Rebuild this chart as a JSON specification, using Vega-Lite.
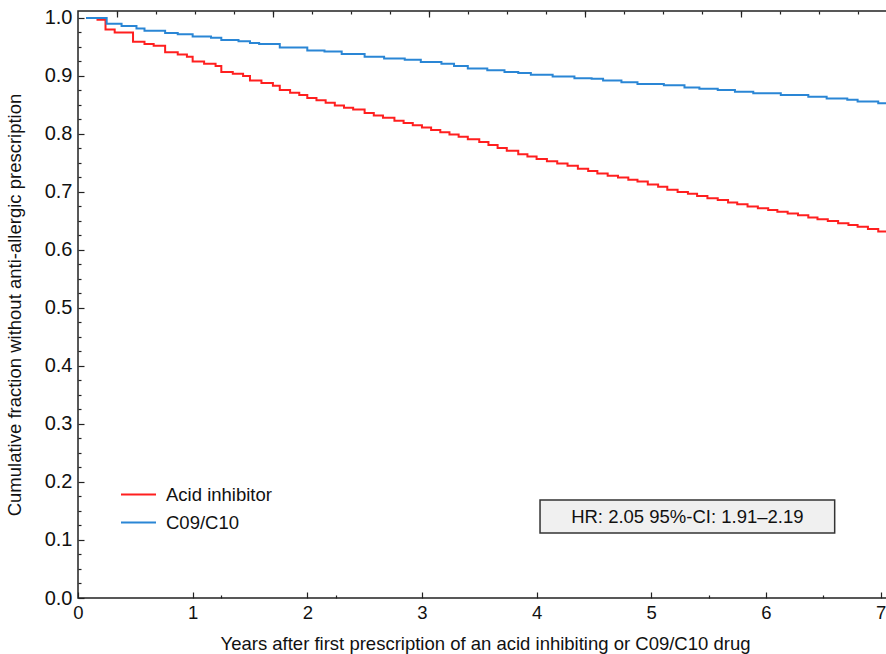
{
  "$schema": "https://vega.github.io/schema/vega-lite/v6.json",
  "autosize": {"type": "none"},
  "padding": {"left": 78, "top": 11, "right": 0, "bottom": 56},
  "width": 814,
  "height": 587,
  "background": "white",
  "config": {
    "view": {"stroke": "#222", "strokeWidth": 1.5},
    "font": "Liberation Sans",
    "axis": {"grid": false, "domain": false, "labelFont": "Liberation Sans", "titleFont": "Liberation Sans", "labelColor": "#111", "titleColor": "#111", "tickColor": "#222", "tickWidth": 1.2, "titleFontWeight": "normal", "labelFontSize": 18.5, "titleFontSize": 18.5}
  },
  "datasets": {
    "curves": [
      {"t": 0.07, "v": 1.0, "group": "Acid inhibitor"},
      {"t": 0.17, "v": 0.997, "group": "Acid inhibitor"},
      {"t": 0.24, "v": 0.98, "group": "Acid inhibitor"},
      {"t": 0.32, "v": 0.975, "group": "Acid inhibitor"},
      {"t": 0.48, "v": 0.959, "group": "Acid inhibitor"},
      {"t": 0.58, "v": 0.955, "group": "Acid inhibitor"},
      {"t": 0.66, "v": 0.952, "group": "Acid inhibitor"},
      {"t": 0.76, "v": 0.941, "group": "Acid inhibitor"},
      {"t": 0.87, "v": 0.937, "group": "Acid inhibitor"},
      {"t": 0.95, "v": 0.933, "group": "Acid inhibitor"},
      {"t": 1.0, "v": 0.925, "group": "Acid inhibitor"},
      {"t": 1.1, "v": 0.921, "group": "Acid inhibitor"},
      {"t": 1.2, "v": 0.917, "group": "Acid inhibitor"},
      {"t": 1.25, "v": 0.907, "group": "Acid inhibitor"},
      {"t": 1.35, "v": 0.904, "group": "Acid inhibitor"},
      {"t": 1.44, "v": 0.9, "group": "Acid inhibitor"},
      {"t": 1.5, "v": 0.892, "group": "Acid inhibitor"},
      {"t": 1.6, "v": 0.888, "group": "Acid inhibitor"},
      {"t": 1.7, "v": 0.883, "group": "Acid inhibitor"},
      {"t": 1.76, "v": 0.876, "group": "Acid inhibitor"},
      {"t": 1.85, "v": 0.871, "group": "Acid inhibitor"},
      {"t": 1.93, "v": 0.867, "group": "Acid inhibitor"},
      {"t": 2.0, "v": 0.862, "group": "Acid inhibitor"},
      {"t": 2.08, "v": 0.858, "group": "Acid inhibitor"},
      {"t": 2.16, "v": 0.854, "group": "Acid inhibitor"},
      {"t": 2.24, "v": 0.849, "group": "Acid inhibitor"},
      {"t": 2.32, "v": 0.845, "group": "Acid inhibitor"},
      {"t": 2.4, "v": 0.842, "group": "Acid inhibitor"},
      {"t": 2.5, "v": 0.836, "group": "Acid inhibitor"},
      {"t": 2.58, "v": 0.832, "group": "Acid inhibitor"},
      {"t": 2.66, "v": 0.828, "group": "Acid inhibitor"},
      {"t": 2.76, "v": 0.823, "group": "Acid inhibitor"},
      {"t": 2.84, "v": 0.819, "group": "Acid inhibitor"},
      {"t": 2.92, "v": 0.815, "group": "Acid inhibitor"},
      {"t": 3.0, "v": 0.811, "group": "Acid inhibitor"},
      {"t": 3.08, "v": 0.807, "group": "Acid inhibitor"},
      {"t": 3.16, "v": 0.803, "group": "Acid inhibitor"},
      {"t": 3.24, "v": 0.799, "group": "Acid inhibitor"},
      {"t": 3.32, "v": 0.795, "group": "Acid inhibitor"},
      {"t": 3.4, "v": 0.791, "group": "Acid inhibitor"},
      {"t": 3.5, "v": 0.786, "group": "Acid inhibitor"},
      {"t": 3.58, "v": 0.781, "group": "Acid inhibitor"},
      {"t": 3.66, "v": 0.776, "group": "Acid inhibitor"},
      {"t": 3.74, "v": 0.771, "group": "Acid inhibitor"},
      {"t": 3.84, "v": 0.765, "group": "Acid inhibitor"},
      {"t": 3.92, "v": 0.761, "group": "Acid inhibitor"},
      {"t": 4.0, "v": 0.757, "group": "Acid inhibitor"},
      {"t": 4.09, "v": 0.753, "group": "Acid inhibitor"},
      {"t": 4.18, "v": 0.749, "group": "Acid inhibitor"},
      {"t": 4.27, "v": 0.745, "group": "Acid inhibitor"},
      {"t": 4.36, "v": 0.74, "group": "Acid inhibitor"},
      {"t": 4.45, "v": 0.736, "group": "Acid inhibitor"},
      {"t": 4.53, "v": 0.732, "group": "Acid inhibitor"},
      {"t": 4.62, "v": 0.728, "group": "Acid inhibitor"},
      {"t": 4.71, "v": 0.725, "group": "Acid inhibitor"},
      {"t": 4.8, "v": 0.721, "group": "Acid inhibitor"},
      {"t": 4.88, "v": 0.718, "group": "Acid inhibitor"},
      {"t": 4.97, "v": 0.713, "group": "Acid inhibitor"},
      {"t": 5.06, "v": 0.709, "group": "Acid inhibitor"},
      {"t": 5.14, "v": 0.704, "group": "Acid inhibitor"},
      {"t": 5.23, "v": 0.7, "group": "Acid inhibitor"},
      {"t": 5.32, "v": 0.697, "group": "Acid inhibitor"},
      {"t": 5.4, "v": 0.693, "group": "Acid inhibitor"},
      {"t": 5.49, "v": 0.689, "group": "Acid inhibitor"},
      {"t": 5.58, "v": 0.686, "group": "Acid inhibitor"},
      {"t": 5.67, "v": 0.682, "group": "Acid inhibitor"},
      {"t": 5.75, "v": 0.679, "group": "Acid inhibitor"},
      {"t": 5.84, "v": 0.675, "group": "Acid inhibitor"},
      {"t": 5.93, "v": 0.672, "group": "Acid inhibitor"},
      {"t": 6.02, "v": 0.669, "group": "Acid inhibitor"},
      {"t": 6.1, "v": 0.666, "group": "Acid inhibitor"},
      {"t": 6.19, "v": 0.663, "group": "Acid inhibitor"},
      {"t": 6.28, "v": 0.66, "group": "Acid inhibitor"},
      {"t": 6.37, "v": 0.656, "group": "Acid inhibitor"},
      {"t": 6.45, "v": 0.653, "group": "Acid inhibitor"},
      {"t": 6.54, "v": 0.65, "group": "Acid inhibitor"},
      {"t": 6.63, "v": 0.646, "group": "Acid inhibitor"},
      {"t": 6.72, "v": 0.643, "group": "Acid inhibitor"},
      {"t": 6.8, "v": 0.64, "group": "Acid inhibitor"},
      {"t": 6.89, "v": 0.636, "group": "Acid inhibitor"},
      {"t": 6.98, "v": 0.632, "group": "Acid inhibitor"},
      {"t": 7.1, "v": 0.63, "group": "Acid inhibitor"},
      {"t": 0.07, "v": 1.0, "group": "C09/C10"},
      {"t": 0.25, "v": 0.99, "group": "C09/C10"},
      {"t": 0.38, "v": 0.986, "group": "C09/C10"},
      {"t": 0.51, "v": 0.982, "group": "C09/C10"},
      {"t": 0.58, "v": 0.978, "group": "C09/C10"},
      {"t": 0.76, "v": 0.974, "group": "C09/C10"},
      {"t": 0.87, "v": 0.972, "group": "C09/C10"},
      {"t": 1.0, "v": 0.968, "group": "C09/C10"},
      {"t": 1.16, "v": 0.966, "group": "C09/C10"},
      {"t": 1.25, "v": 0.962, "group": "C09/C10"},
      {"t": 1.4, "v": 0.96, "group": "C09/C10"},
      {"t": 1.5, "v": 0.957, "group": "C09/C10"},
      {"t": 1.58, "v": 0.955, "group": "C09/C10"},
      {"t": 1.76, "v": 0.949, "group": "C09/C10"},
      {"t": 2.0, "v": 0.944, "group": "C09/C10"},
      {"t": 2.15, "v": 0.942, "group": "C09/C10"},
      {"t": 2.3, "v": 0.938, "group": "C09/C10"},
      {"t": 2.5, "v": 0.933, "group": "C09/C10"},
      {"t": 2.67, "v": 0.93, "group": "C09/C10"},
      {"t": 2.85, "v": 0.928, "group": "C09/C10"},
      {"t": 2.99, "v": 0.924, "group": "C09/C10"},
      {"t": 3.17, "v": 0.921, "group": "C09/C10"},
      {"t": 3.28, "v": 0.917, "group": "C09/C10"},
      {"t": 3.4, "v": 0.913, "group": "C09/C10"},
      {"t": 3.57, "v": 0.91, "group": "C09/C10"},
      {"t": 3.72, "v": 0.907, "group": "C09/C10"},
      {"t": 3.84, "v": 0.905, "group": "C09/C10"},
      {"t": 3.95, "v": 0.902, "group": "C09/C10"},
      {"t": 4.14, "v": 0.899, "group": "C09/C10"},
      {"t": 4.33, "v": 0.896, "group": "C09/C10"},
      {"t": 4.48, "v": 0.895, "group": "C09/C10"},
      {"t": 4.58, "v": 0.892, "group": "C09/C10"},
      {"t": 4.74, "v": 0.889, "group": "C09/C10"},
      {"t": 4.88, "v": 0.886, "group": "C09/C10"},
      {"t": 5.11, "v": 0.884, "group": "C09/C10"},
      {"t": 5.29, "v": 0.88, "group": "C09/C10"},
      {"t": 5.42, "v": 0.878, "group": "C09/C10"},
      {"t": 5.58, "v": 0.876, "group": "C09/C10"},
      {"t": 5.73, "v": 0.873, "group": "C09/C10"},
      {"t": 5.89, "v": 0.87, "group": "C09/C10"},
      {"t": 6.13, "v": 0.867, "group": "C09/C10"},
      {"t": 6.37, "v": 0.864, "group": "C09/C10"},
      {"t": 6.53, "v": 0.861, "group": "C09/C10"},
      {"t": 6.71, "v": 0.859, "group": "C09/C10"},
      {"t": 6.8, "v": 0.856, "group": "C09/C10"},
      {"t": 6.98, "v": 0.853, "group": "C09/C10"},
      {"t": 7.1, "v": 0.852, "group": "C09/C10"}
    ]
  },
  "resolve": {"axis": {"x": "independent", "y": "independent"}},
  "layer": [
    {
      "data": {"values": [{"box": "HR"}]},
      "mark": {"type": "rect", "fill": "#f0f0f0", "stroke": "#333", "strokeWidth": 1.5},
      "encoding": {
        "x": {
          "datum": 4.03, "type": "quantitative",
          "scale": {"domain": [0, 7.1], "nice": false, "zero": false},
          "axis": {
            "orient": "top", "title": null, "labels": false, "tickSize": -3,
            "values": [0.34, 0.68, 1.02, 1.36, 1.7, 2.04, 2.38, 2.72, 3.06, 3.4, 3.74, 4.08, 4.42, 4.76, 5.1, 5.44, 5.78, 6.12, 6.46, 6.8]
          }
        },
        "x2": {"datum": 6.6},
        "y": {
          "datum": 0.169, "type": "quantitative",
          "scale": {"domain": [0, 1.012], "nice": false, "zero": false},
          "axis": {
            "orient": "left", "title": null, "labels": false, "tickSize": -3,
            "values": [0.025, 0.05, 0.075, 0.125, 0.15, 0.175, 0.225, 0.25, 0.275, 0.325, 0.35, 0.375, 0.425, 0.45, 0.475, 0.525, 0.55, 0.575, 0.625, 0.65, 0.675, 0.725, 0.75, 0.775, 0.825, 0.85, 0.875, 0.925, 0.95, 0.975]
          }
        },
        "y2": {"datum": 0.112}
      }
    },
    {
      "data": {"values": [{"label": "HR: 2.05 95%-CI: 1.91–2.19"}]},
      "mark": {"type": "text", "fontSize": 18.5, "font": "Liberation Sans", "color": "#111", "align": "center", "baseline": "middle"},
      "encoding": {
        "text": {"field": "label", "type": "nominal"},
        "x": {
          "datum": 5.315, "type": "quantitative",
          "scale": {"domain": [0, 7.1], "nice": false, "zero": false},
          "axis": {"orient": "top", "title": null, "labels": false, "tickSize": -6, "values": [0.34, 1.7, 3.06, 4.42, 5.78]}
        },
        "y": {
          "datum": 0.1405, "type": "quantitative",
          "scale": {"domain": [0, 1.012], "nice": false, "zero": false},
          "axis": null
        }
      }
    },
    {
      "data": {"name": "curves"},
      "transform": [{"filter": "datum.group === 'Acid inhibitor'"}],
      "mark": {"type": "line", "interpolate": "step-after", "strokeWidth": 2},
      "encoding": {
        "x": {
          "field": "t", "type": "quantitative",
          "scale": {"domain": [0, 7.1], "nice": false, "zero": false},
          "axis": {"orient": "bottom", "title": null, "labels": false, "tickSize": -3, "values": [1.25, 2.25, 5.5, 6.5]}
        },
        "y": {
          "field": "v", "type": "quantitative",
          "scale": {"domain": [0, 1.012], "nice": false, "zero": false},
          "axis": {
            "orient": "left",
            "title": "Cumulative fraction without anti-allergic prescription",
            "titlePadding": 20,
            "labelPadding": 12,
            "labelFontSize": 20,
            "labelFlush": false,
            "tickSize": -6,
            "values": [0, 0.1, 0.2, 0.3, 0.4, 0.5, 0.6, 0.7, 0.8, 0.9, 1.0],
            "format": ".1f"
          }
        },
        "color": {
          "field": "group", "type": "nominal",
          "scale": {"domain": ["Acid inhibitor", "C09/C10"], "range": ["#ff1f1f", "#2a86d5"]},
          "legend": {
            "orient": "none", "legendX": 42, "legendY": 465, "title": null, "padding": 0,
            "symbolType": "stroke", "symbolSize": 1225, "symbolStrokeWidth": 2,
            "labelFontSize": 18.5, "labelFont": "Liberation Sans", "labelColor": "#111", "labelOffset": 9, "rowPadding": -7
          }
        }
      }
    },
    {
      "data": {"name": "curves"},
      "transform": [{"filter": "datum.group === 'C09/C10'"}],
      "mark": {"type": "line", "interpolate": "step-after", "strokeWidth": 2},
      "encoding": {
        "x": {
          "field": "t", "type": "quantitative",
          "scale": {"domain": [0, 7.1], "nice": false, "zero": false},
          "axis": {
            "orient": "bottom",
            "title": "Years after first prescription of an acid inhibiting or C09/C10 drug",
            "titlePadding": 13,
            "labelPadding": 11,
            "labelFlush": false,
            "tickSize": -6,
            "values": [0, 1, 2, 3, 4, 5, 6, 7],
            "format": "d"
          }
        },
        "y": {
          "field": "v", "type": "quantitative",
          "scale": {"domain": [0, 1.012], "nice": false, "zero": false},
          "axis": null
        },
        "color": {
          "field": "group", "type": "nominal",
          "scale": {"domain": ["Acid inhibitor", "C09/C10"], "range": ["#ff1f1f", "#2a86d5"]},
          "legend": {
            "orient": "none", "legendX": 42, "legendY": 465, "title": null, "padding": 0,
            "symbolType": "stroke", "symbolSize": 1225, "symbolStrokeWidth": 2,
            "labelFontSize": 18.5, "labelFont": "Liberation Sans", "labelColor": "#111", "labelOffset": 9, "rowPadding": -7
          }
        }
      }
    }
  ]
}
